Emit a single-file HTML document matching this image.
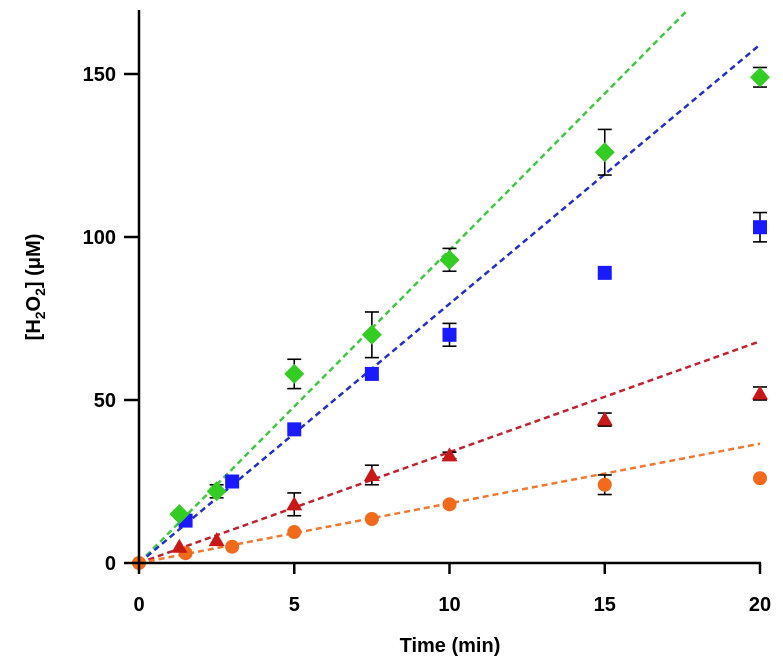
<!DOCTYPE html>
<html><head><meta charset="utf-8"><style>
html,body{margin:0;padding:0;background:#fff;}
svg{display:block;font-family:"Liberation Sans",Arial,sans-serif;font-weight:bold;}
</style></head><body>
<svg id="chart" width="783" height="665"></svg>
<script>
const xTicks=[0,5,10,15,20];
const yTicks=[0,50,100,150];
const greenT=[1.3,2.5,5,7.5,10,15,20];
const greenV=[15,22,58,70,93,126,149];
const greenE=[0,2,4.5,7,3.5,7,3];
const blueT=[1.5,3,5,7.5,10,15,20];
const blueV=[13,25,41,58,70,89,103];
const blueE=[0,0,0,0,3.5,0,4.5];
const redT=[1.3,2.5,5,7.5,10,15,20];
const redV=[5,7,18,27,33,44,52];
const redE=[0,0,3.5,3,1,2,2];
const orangeT=[0,1.5,3,5,7.5,10,15,20];
const orangeV=[0,3,5,9.5,13.5,18,24,26];
const orangeE=[0,0,0,0,0,0,3,0];
const fitSlopes=[9.6,7.95,3.4,1.83];

const NS="http://www.w3.org/2000/svg";
const svg=document.getElementById('chart');
const X=t=>139+t*31.05;
const Y=v=>563-v*3.26;
function mk(tag,attrs,parent){const e=document.createElementNS(NS,tag);for(const k in attrs)e.setAttribute(k,attrs[k]);(parent||svg).appendChild(e);return e;}

const defs=mk('defs',{});
const cp=mk('clipPath',{id:'plotclip'},defs);
mk('rect',{x:139,y:10,width:640,height:553},cp);

// fit lines
const fitColors=['#3fc83f','#2030c8','#c02030','#f07830'];
const fitNames=['fit-line-green','fit-line-blue','fit-line-red','fit-line-orange'];
fitSlopes.forEach((s,i)=>{
  const l=mk('line',{x1:X(0),y1:Y(0),x2:X(20),y2:Y(s*20),stroke:fitColors[i],'stroke-width':2.5,'stroke-dasharray':'6,4','clip-path':'url(#plotclip)'});
  
  
});

function errbar(t,v,e,name){
  if(!e)return;
  const g=mk('g',{stroke:'#000','stroke-width':1.6});
  
  
  const x=X(t);
  mk('line',{x1:x,y1:Y(v+e),x2:x,y2:Y(v-e)},g);
  mk('line',{x1:x-7,y1:Y(v+e),x2:x+7,y2:Y(v+e)},g);
  mk('line',{x1:x-7,y1:Y(v-e),x2:x+7,y2:Y(v-e)},g);
}

// orange circles
orangeT.forEach((t,i)=>{
  errbar(t,orangeV[i],orangeE[i],'error-bar-orange');
  const c=mk('circle',{cx:X(t),cy:Y(orangeV[i]),r:7,fill:'#f26a1b'});
  
  
});
// red triangles
redT.forEach((t,i)=>{
  errbar(t,redV[i],redE[i],'error-bar-red');
  const x=X(t),y=Y(redV[i]);
  const p=mk('polygon',{points:`${x},${y-8} ${x-8},${y+6} ${x+8},${y+6}`,fill:'#c81818'});
  
  
});
// blue squares
blueT.forEach((t,i)=>{
  errbar(t,blueV[i],blueE[i],'error-bar-blue');
  const r=mk('rect',{x:X(t)-7,y:Y(blueV[i])-7,width:14,height:14,fill:'#1a1aff'});
  
  
});
// green diamonds
greenT.forEach((t,i)=>{
  errbar(t,greenV[i],greenE[i],'error-bar-green');
  const x=X(t),y=Y(greenV[i]);
  const p=mk('polygon',{points:`${x},${y-10} ${x+10},${y} ${x},${y+10} ${x-10},${y}`,fill:'#33cc22'});
  
  
});

// axes
const ya=mk('line',{x1:139,y1:10,x2:139,y2:564,stroke:'#000','stroke-width':2.5});


const xa=mk('line',{x1:138,y1:563,x2:761,y2:563,stroke:'#000','stroke-width':2.5});



yTicks.forEach(v=>{
  const tk=mk('line',{x1:124,y1:Y(v),x2:139,y2:Y(v),stroke:'#000','stroke-width':2.5});
  
  
  const tx=mk('text',{x:116,y:Y(v)+7,'text-anchor':'end','font-size':20});
  tx.textContent=v;
  
  
});
xTicks.forEach(t=>{
  const tk=mk('line',{x1:X(t),y1:563,x2:X(t),y2:574,stroke:'#000','stroke-width':2.5});
  
  
  const tx=mk('text',{x:X(t),y:611,'text-anchor':'middle','font-size':20});
  tx.textContent=t;
  
  
});

const xt=mk('text',{x:450,y:652,'text-anchor':'middle','font-size':20});
xt.textContent='Time (min)';



const yt=mk('text',{transform:'translate(40,287) rotate(-90)','text-anchor':'middle','font-size':20});


yt.innerHTML='[H<tspan font-size="14" dy="5">2</tspan><tspan dy="-5">O</tspan><tspan font-size="14" dy="5">2</tspan><tspan dy="-5">] (μM)</tspan>';
</script>
</body></html>
